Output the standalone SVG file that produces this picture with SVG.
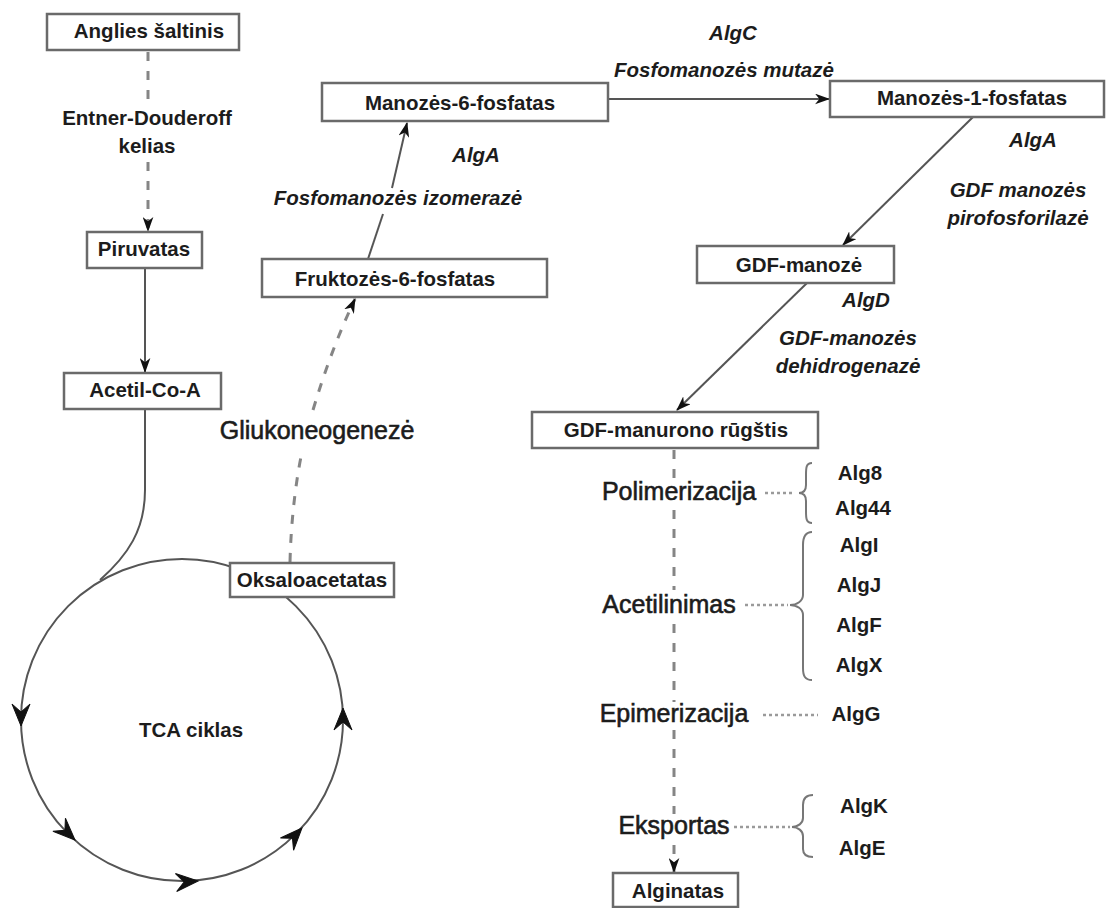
<svg xmlns="http://www.w3.org/2000/svg" width="1107" height="908" viewBox="0 0 1107 908">
<style>
.box{fill:#fff;stroke:#6a6a6a;stroke-width:2.5}
.bt{font-family:"Liberation Sans",Arial,sans-serif;font-weight:bold;font-size:20.5px;fill:#1c1c1c;text-anchor:middle}
.it{font-family:"Liberation Sans",Arial,sans-serif;font-weight:bold;font-style:italic;font-size:20.5px;fill:#1c1c1c;text-anchor:middle}
.rt{font-family:"Liberation Sans",Arial,sans-serif;font-size:25px;fill:#1c1c1c;stroke:#1c1c1c;stroke-width:0.6;text-anchor:middle}
.ln{fill:none;stroke:#555;stroke-width:2}
.ds{fill:none;stroke:#858585;stroke-width:3;stroke-dasharray:9 10}
.dt{fill:none;stroke:#9a9a9a;stroke-width:2.5;stroke-dasharray:3 3}
.br{fill:none;stroke:#777;stroke-width:2}
.ah{fill:#111;stroke:#111;stroke-width:1}
</style>
<defs>
<marker id="arr" viewBox="0 0 14 10" refX="13" refY="5" markerWidth="15" markerHeight="11" markerUnits="userSpaceOnUse" orient="auto">
<path d="M0,0 L14,5 L0,10 L4,5 Z" fill="#111"/>
</marker>
</defs>

<g id="connectors">
<path class="ds" d="M148,52 L148,100"/>
<path class="ds" d="M148,162 L148,231" marker-end="url(#arr)"/>
<path class="ln" d="M145,268 L145,372" marker-end="url(#arr)"/>
<path class="ln" d="M145,409 L145,490 C145,530 128,555 100,580"/>
<circle class="ln" cx="182" cy="720" r="161"/>
<path class="ah" transform="translate(21,726) rotate(90)" d="M0,0 L-22,-9 L-14,0 L-22,9 Z"/>
<path class="ah" transform="translate(75,840) rotate(44)" d="M0,0 L-22,-9 L-14,0 L-22,9 Z"/>
<path class="ah" transform="translate(198,881) rotate(-4)" d="M0,0 L-22,-9 L-14,0 L-22,9 Z"/>
<path class="ah" transform="translate(302,828) rotate(-47)" d="M0,0 L-22,-9 L-14,0 L-22,9 Z"/>
<path class="ah" transform="translate(343,708) rotate(-90)" d="M0,0 L-22,-9 L-14,0 L-22,9 Z"/>
<path class="ds" d="M290,562 C291,520 296,480 302,452"/>
<path class="ds" d="M313,410 C325,370 338,335 355,299" marker-end="url(#arr)"/>
<path class="ln" d="M368,259 L383,214"/>
<path class="ln" d="M392,188 L407,123" marker-end="url(#arr)"/>
<path class="ln" d="M608,99 L829,99" marker-end="url(#arr)"/>
<path class="ln" d="M973,117 L843,245" marker-end="url(#arr)"/>
<path class="ln" d="M807,283 L677,410" marker-end="url(#arr)"/>
<path class="ds" d="M674,450 L674,480"/>
<path class="ds" d="M674,510 L674,590"/>
<path class="ds" d="M674,624 L674,702"/>
<path class="ds" d="M674,730 L674,814"/>
<path class="ds" d="M674,845 L674,872" marker-end="url(#arr)"/>
<path class="dt" d="M765,493 L795,493"/>
<path class="dt" d="M745,605 L788,605"/>
<path class="dt" d="M763,715 L818,715"/>
<path class="dt" d="M734,827 L790,827"/>
<path class="br" d="M812,463 C806,463 806,468 806,475 L806,485 C806,490 804,493 799,493 C804,493 806,496 806,501 L806,511 C806,518 806,523 812,523"/>
<path class="br" d="M812,532 C805,532 803,537 803,545 L803,595 C803,601 797,605 790,605 C797,605 803,609 803,615 L803,668 C803,676 805,680 812,680"/>
<path class="br" d="M813,795 C806,795 803,799 803,805 L803,818 C803,823 798,827 792,827 C798,827 803,831 803,836 L803,849 C803,854 806,857 813,857"/>
</g>

<g id="n-anglies">
<rect class="box" x="47" y="14" width="192" height="36"/>
<text class="bt" x="149" y="38" font-size="20">Anglies šaltinis</text>
</g>
<g id="l-ed">
<text class="bt" x="147" y="125" font-size="20.5">Entner-Douderoff</text>
<text class="bt" x="147" y="153" font-size="20.5">kelias</text>
</g>
<g id="n-piruvatas">
<rect class="box" x="87" y="232" width="115" height="36"/>
<text class="bt" x="144" y="256" font-size="18">Piruvatas</text>
</g>
<g id="n-acetil">
<rect class="box" x="64" y="373" width="157" height="36"/>
<text class="bt" x="145" y="397" font-size="20.5">Acetil-Co-A</text>
</g>
<g id="n-tca">
<text class="bt" x="191" y="737" font-size="24">TCA ciklas</text>
</g>
<g id="n-oksalo">
<rect class="box" x="230" y="563" width="164" height="34"/>
<text class="bt" x="312" y="587" font-size="18.5">Oksaloacetatas</text>
</g>
<g id="l-gliuko">
<text class="rt" x="317" y="439" font-size="22">Gliukoneogenezė</text>
</g>
<g id="n-frukt">
<rect class="box" x="262" y="259" width="285" height="38"/>
<text class="bt" x="395" y="286" font-size="20.8">Fruktozės-6-fosfatas</text>
</g>
<g id="l-alga1">
<text class="it" x="476" y="162">AlgA</text>
<text class="it" x="398" y="205" font-size="20.8">Fosfomanozės izomerazė</text>
</g>
<g id="n-man6">
<rect class="box" x="322" y="83" width="286" height="38"/>
<text class="bt" x="460" y="110" font-size="21">Manozės-6-fosfatas</text>
</g>
<g id="l-algc">
<text class="it" x="733" y="40">AlgC</text>
<text class="it" x="724" y="77" font-size="20.7">Fosfomanozės mutazė</text>
</g>
<g id="n-man1">
<rect class="box" x="830" y="81" width="274" height="36"/>
<text class="bt" x="972" y="105" font-size="21">Manozės-1-fosfatas</text>
</g>
<g id="l-alga2">
<text class="it" x="1033" y="147" font-size="19.5">AlgA</text>
<text class="it" x="1018" y="197">GDF manozės</text>
<text class="it" x="1018" y="225" font-size="21">pirofosforilazė</text>
</g>
<g id="n-gdfman">
<rect class="box" x="697" y="246" width="197" height="37"/>
<text class="bt" x="799" y="272" font-size="20.8">GDF-manozė</text>
</g>
<g id="l-algd">
<text class="it" x="866" y="307">AlgD</text>
<text class="it" x="848" y="345">GDF-manozės</text>
<text class="it" x="848" y="373">dehidrogenazė</text>
</g>
<g id="n-gdfmanur">
<rect class="box" x="532" y="412" width="286" height="36"/>
<text class="bt" x="676" y="437" font-size="20.7">GDF-manurono rūgštis</text>
</g>
<g id="l-polim">
<text class="rt" x="679" y="500">Polimerizacija</text>
<text class="bt" x="860" y="480">Alg8</text>
<text class="bt" x="863" y="515">Alg44</text>
</g>
<g id="l-acet">
<text class="rt" x="669" y="613">Acetilinimas</text>
<text class="bt" x="859" y="552">AlgI</text>
<text class="bt" x="859" y="592">AlgJ</text>
<text class="bt" x="859" y="632">AlgF</text>
<text class="bt" x="859" y="672">AlgX</text>
</g>
<g id="l-epim">
<text class="rt" x="674" y="722">Epimerizacija</text>
<text class="bt" x="856" y="721">AlgG</text>
</g>
<g id="l-eksp">
<text class="rt" x="674" y="834">Eksportas</text>
<text class="bt" x="864" y="813">AlgK</text>
<text class="bt" x="862" y="855">AlgE</text>
</g>
<g id="n-alginatas">
<rect class="box" x="613" y="873" width="125" height="34"/>
<text class="bt" x="678" y="898" font-size="22">Alginatas</text>
</g>
</svg>
